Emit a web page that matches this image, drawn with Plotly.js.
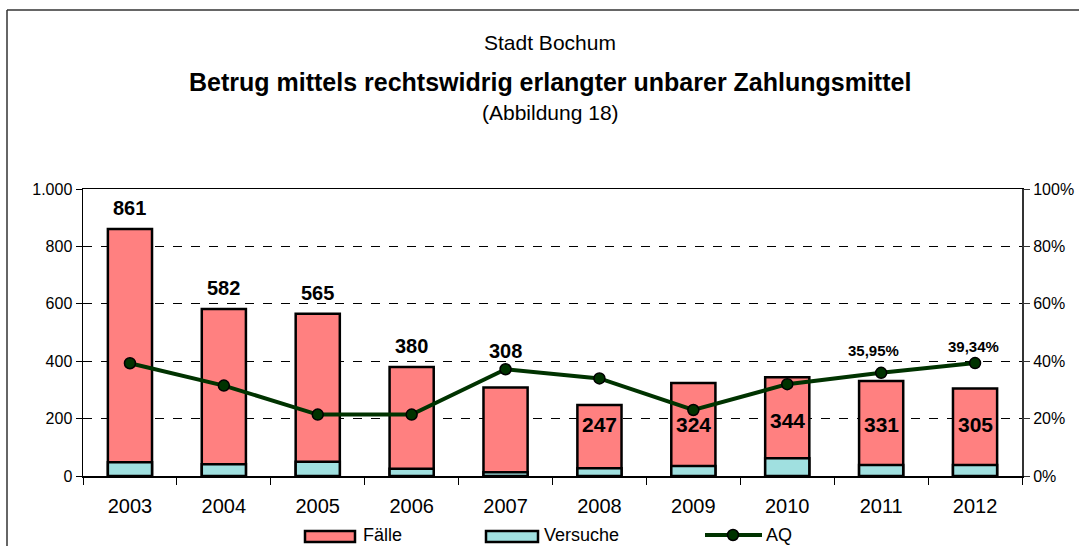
<!DOCTYPE html>
<html>
<head>
<meta charset="utf-8">
<script src="https://cdn.plot.ly/plotly-3.0.1.min.js"></script>
<style>html,body{margin:0;padding:0;background:#fff;}#chart{width:1079px;height:546px;}</style>
</head>
<body>
<div id="chart"></div>
<script>
// ---- data ----
var years = ['2003','2004','2005','2006','2007','2008','2009','2010','2011','2012'];
var faelle = [861, 582, 565, 380, 308, 247, 324, 344, 331, 305];
var versuche = [48, 41, 50, 25, 13, 27, 35, 62, 38, 38];
var aq = [0.393, 0.315, 0.214, 0.214, 0.372, 0.340, 0.230, 0.320, 0.3595, 0.3934];
var aqLabels = ['', '', '', '', '', '', '', '', '35,95%', '39,34%'];

// ---- layout helpers ----
var W = 1079, H = 546;
var ML = 83, MR = 57, MT = 189, MB = 70;
var PW = W - ML - MR, PH = H - MT - MB;
function px(x) { return (x - ML) / PW; }
function py(y) { return (H - MB - y) / PH; }
var FONT = 'Liberation Sans, Arial, Helvetica, sans-serif';

var traces = [
  {type: 'bar', name: 'Fälle', x: years, y: faelle,
   marker: {color: '#FF8080', line: {color: '#000', width: 2.5}}, hoverinfo: 'x+y'},
  {type: 'bar', name: 'Versuche', x: years, y: versuche,
   marker: {color: '#A0E0E0', line: {color: '#000', width: 2.5}}, hoverinfo: 'x+y'},
  {type: 'scatter', mode: 'lines+markers', name: 'AQ', x: years, y: aq, yaxis: 'y2',
   line: {color: '#003300', width: 4},
   marker: {size: 11, color: '#003300', line: {color: '#000', width: 1.5}}}
];

var annotations = [];
// titles
annotations.push({xref: 'paper', yref: 'paper', x: px(550), y: py(42), text: 'Stadt Bochum',
  showarrow: false, font: {family: FONT, size: 21, color: '#000'}, xanchor: 'center', yanchor: 'middle'});
annotations.push({xref: 'paper', yref: 'paper', x: px(550), y: py(82), text: '<b>Betrug mittels rechtswidrig erlangter unbarer Zahlungsmittel</b>',
  showarrow: false, font: {family: FONT, size: 25, color: '#000'}, xanchor: 'center', yanchor: 'middle'});
annotations.push({xref: 'paper', yref: 'paper', x: px(550), y: py(113), text: '(Abbildung 18)',
  showarrow: false, font: {family: FONT, size: 21, color: '#000'}, xanchor: 'center', yanchor: 'middle'});

// value labels (x given as category index)
for (var i = 0; i < years.length; i++) {
  if (i < 4) {
    annotations.push({x: i, y: faelle[i], xref: 'x', yref: 'y', text: '<b>' + faelle[i] + '</b>',
      showarrow: false, yanchor: 'bottom', yshift: 8, font: {family: FONT, size: 20, color: '#000'}});
  } else if (i === 4) {
    annotations.push({x: i, y: aq[i], xref: 'x', yref: 'y2', text: '<b>' + faelle[i] + '</b>',
      showarrow: false, yanchor: 'bottom', yshift: 5, font: {family: FONT, size: 20, color: '#000'}});
  } else {
    annotations.push({x: i, y: (i === 7 ? 193 : 178), xref: 'x', yref: 'y', text: '<b>' + faelle[i] + '</b>',
      showarrow: false, yanchor: 'middle', font: {family: FONT, size: 21, color: '#000'}});
  }
  if (aqLabels[i]) {
    annotations.push({x: i, y: aq[i], xref: 'x', yref: 'y2', text: '<b>' + aqLabels[i] + '</b>',
      showarrow: false, yanchor: 'middle', yshift: (i === 8 ? 22 : 17), xshift: (i === 8 ? -8 : -2),
      font: {family: FONT, size: 15, color: '#000'}});
  }
}

// manual legend
var legendY = 534.5;
annotations.push({xref: 'paper', yref: 'paper', x: px(361), y: py(legendY), text: 'Fälle', showarrow: false,
  xanchor: 'left', yanchor: 'middle', font: {family: FONT, size: 18, color: '#000'}});
annotations.push({xref: 'paper', yref: 'paper', x: px(542), y: py(legendY), text: 'Versuche', showarrow: false,
  xanchor: 'left', yanchor: 'middle', font: {family: FONT, size: 18, color: '#000'}});
annotations.push({xref: 'paper', yref: 'paper', x: px(764), y: py(legendY), text: 'AQ', showarrow: false,
  xanchor: 'left', yanchor: 'middle', font: {family: FONT, size: 18, color: '#000'}});

var shapes = [
  // outer frame (left and top edges visible)
  {type: 'line', xref: 'paper', yref: 'paper', x0: px(7), x1: px(7), y0: py(10), y1: py(560), line: {color: '#333', width: 1.5}},
  {type: 'line', xref: 'paper', yref: 'paper', x0: px(7), x1: px(1090), y0: py(10), y1: py(10), line: {color: '#333', width: 1.5}},
  // legend swatches
  {type: 'rect', xref: 'paper', yref: 'paper', x0: px(305), x1: px(355), y0: py(531), y1: py(542),
   fillcolor: '#FF8080', line: {color: '#000', width: 2.5}},
  {type: 'rect', xref: 'paper', yref: 'paper', x0: px(486), x1: px(538), y0: py(531), y1: py(542),
   fillcolor: '#A0E0E0', line: {color: '#000', width: 2.5}},
  {type: 'line', xref: 'paper', yref: 'paper', x0: px(705), x1: px(762), y0: py(535), y1: py(535),
   line: {color: '#003300', width: 4}},
  {type: 'circle', xref: 'paper', yref: 'paper', xsizemode: 'pixel', ysizemode: 'pixel',
   xanchor: px(733), yanchor: py(535), x0: -5.5, x1: 5.5, y0: -5.5, y1: 5.5,
   fillcolor: '#003300', line: {color: '#000', width: 1.5}}
];

var layout = {
  width: W, height: H,
  margin: {l: ML, r: MR, t: MT, b: MB, pad: 0},
  paper_bgcolor: '#fff', plot_bgcolor: '#fff',
  separators: ',.',
  barmode: 'overlay', bargap: 0.53,
  showlegend: false,
  font: {family: FONT, color: '#000'},
  xaxis: {type: 'category', range: [-0.5, years.length - 0.5], autorange: false,
    showline: true, linecolor: '#000', linewidth: 1.5, mirror: true,
    ticks: 'outside', tickson: 'boundaries', ticklen: 7, tickcolor: '#000', tickwidth: 1,
    tickfont: {family: FONT, size: 20, color: '#000'}, tickangle: 0, ticklabelstandoff: 11,
    showgrid: false, zeroline: false, automargin: false, fixedrange: true},
  yaxis: {range: [0, 1000], autorange: false, dtick: 200, tickformat: ',d', showgrid: true, gridcolor: '#000', griddash: 'dash', gridwidth: 1,
    zeroline: false, showline: true, linecolor: '#000', linewidth: 1.5, ticks: 'outside', ticklen: 6, tickcolor: '#000',
    tickfont: {family: FONT, size: 16, color: '#000'}, automargin: false, fixedrange: true},
  yaxis2: {overlaying: 'y', side: 'right', range: [0, 1], autorange: false, dtick: 0.2, tickformat: '.0%', showgrid: false, zeroline: false,
    showline: true, linecolor: '#333', linewidth: 2, ticks: 'outside', ticklen: 6, tickcolor: '#333',
    tickfont: {family: FONT, size: 16, color: '#000'}, automargin: false, fixedrange: true},
  annotations: annotations,
  shapes: shapes
};

Plotly.newPlot('chart', traces, layout, {displayModeBar: false, staticPlot: true});
</script>
</body>
</html>
